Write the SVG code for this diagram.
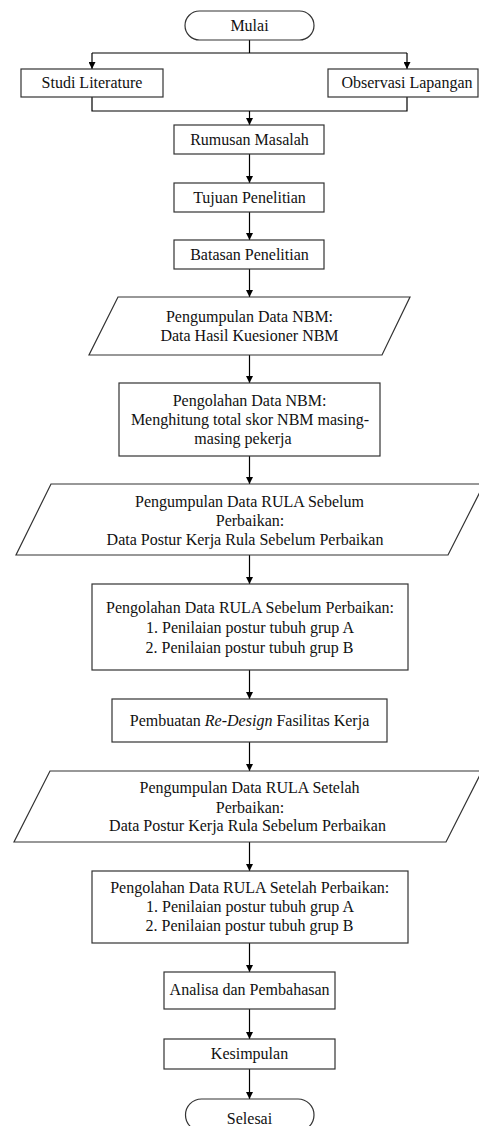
<svg xmlns="http://www.w3.org/2000/svg" width="479" height="1126" viewBox="0 0 479 1126">
<style>
.s{fill:#fff;stroke:#333;stroke-width:1.2}
.c{fill:none;stroke:#000;stroke-width:1.2}
text{font-family:'Liberation Serif','DejaVu Serif',serif;font-size:16px;fill:#111;text-anchor:middle}
</style>
<defs>
<marker id="ah" viewBox="0 0 10 10" refX="10" refY="5" markerWidth="7" markerHeight="7" markerUnits="userSpaceOnUse" orient="auto">
<path d="M0,0 L10,5 L0,10 z" fill="#000"/>
</marker>
</defs>
<rect width="479" height="1126" fill="#fff"/>
<g id="connectors">
<path class="c" d="M249.5,40 V53 M92,53 H407"/>
<path class="c" d="M92,53 V69" marker-end="url(#ah)"/>
<path class="c" d="M407,53 V69" marker-end="url(#ah)"/>
<path class="c" d="M92,97 V111 H407 V97"/>
<path class="c" d="M249.5,111 V125" marker-end="url(#ah)"/>
<path class="c" d="M249.5,154 V183" marker-end="url(#ah)"/>
<path class="c" d="M249.5,212 V240" marker-end="url(#ah)"/>
<path class="c" d="M249.5,269 V297" marker-end="url(#ah)"/>
<path class="c" d="M249.5,355 V383" marker-end="url(#ah)"/>
<path class="c" d="M249.5,456 V484" marker-end="url(#ah)"/>
<path class="c" d="M249.5,555 V584" marker-end="url(#ah)"/>
<path class="c" d="M249.5,670 V699" marker-end="url(#ah)"/>
<path class="c" d="M249.5,742 V771" marker-end="url(#ah)"/>
<path class="c" d="M249.5,842 V871" marker-end="url(#ah)"/>
<path class="c" d="M249.5,943 V972" marker-end="url(#ah)"/>
<path class="c" d="M249.5,1009 V1039" marker-end="url(#ah)"/>
<path class="c" d="M249.5,1069 V1099" marker-end="url(#ah)"/>
</g>
<g id="mulai">
<rect class="s" x="185" y="11" width="129" height="29" rx="14.5"/>
<text x="249.5" y="31">Mulai</text>
</g>
<g id="studi">
<rect class="s" x="21" y="69" width="142" height="28"/>
<text x="92" y="87.5">Studi Literature</text>
</g>
<g id="observasi">
<rect class="s" x="328" y="69" width="150" height="28"/>
<text x="407" y="87.5">Observasi Lapangan</text>
</g>
<g id="rumusan">
<rect class="s" x="174" y="125" width="150" height="29"/>
<text x="249.5" y="145">Rumusan Masalah</text>
</g>
<g id="tujuan">
<rect class="s" x="174" y="183" width="150" height="29"/>
<text x="249.5" y="203">Tujuan Penelitian</text>
</g>
<g id="batasan">
<rect class="s" x="174" y="240" width="150" height="29"/>
<text x="249.5" y="260">Batasan Penelitian</text>
</g>
<g id="pengumpulan-nbm">
<path class="s" d="M118,297 H410 L382,355 H89 Z"/>
<text x="249.5" y="322">Pengumpulan Data NBM:</text>
<text x="249.5" y="341">Data Hasil Kuesioner NBM</text>
</g>
<g id="pengolahan-nbm">
<rect class="s" x="119" y="383" width="261" height="73"/>
<text x="249.5" y="406">Pengolahan Data NBM:</text>
<text x="250" y="425">Menghitung total skor NBM masing-</text>
<text x="243" y="444">masing pekerja</text>
</g>
<g id="pengumpulan-rula-sebelum">
<path class="s" d="M51,484 H484 L448,555 H16 Z"/>
<text x="249.5" y="507">Pengumpulan Data RULA Sebelum</text>
<text x="250" y="526">Perbaikan:</text>
<text x="245" y="545">Data Postur Kerja Rula Sebelum Perbaikan</text>
</g>
<g id="pengolahan-rula-sebelum">
<rect class="s" x="92" y="584" width="316" height="86"/>
<text x="250" y="613">Pengolahan Data RULA Sebelum Perbaikan:</text>
<text x="250" y="633">1. Penilaian postur tubuh grup A</text>
<text x="249.5" y="653">2. Penilaian postur tubuh grup B</text>
</g>
<g id="redesign">
<rect class="s" x="112" y="699" width="275" height="43"/>
<text x="249.5" y="726">Pembuatan <tspan font-style="italic">Re-Design</tspan> Fasilitas Kerja</text>
</g>
<g id="pengumpulan-rula-setelah">
<path class="s" d="M50,771 H482 L446,842 H14 Z"/>
<text x="249.5" y="793">Pengumpulan Data RULA Setelah</text>
<text x="250" y="813">Perbaikan:</text>
<text x="247.5" y="831">Data Postur Kerja Rula Sebelum Perbaikan</text>
</g>
<g id="pengolahan-rula-setelah">
<rect class="s" x="92" y="871" width="316" height="72"/>
<text x="249.7" y="893">Pengolahan Data RULA Setelah Perbaikan:</text>
<text x="250" y="912">1. Penilaian postur tubuh grup A</text>
<text x="249.5" y="931">2. Penilaian postur tubuh grup B</text>
</g>
<g id="analisa">
<rect class="s" x="164" y="972" width="171" height="37"/>
<text x="249.6" y="995">Analisa dan Pembahasan</text>
</g>
<g id="kesimpulan">
<rect class="s" x="164" y="1039" width="171" height="30"/>
<text x="249.5" y="1059">Kesimpulan</text>
</g>
<g id="selesai">
<rect class="s" x="185.5" y="1099" width="128.5" height="32" rx="16"/>
<text x="249.5" y="1124">Selesai</text>
</g>
</svg>
